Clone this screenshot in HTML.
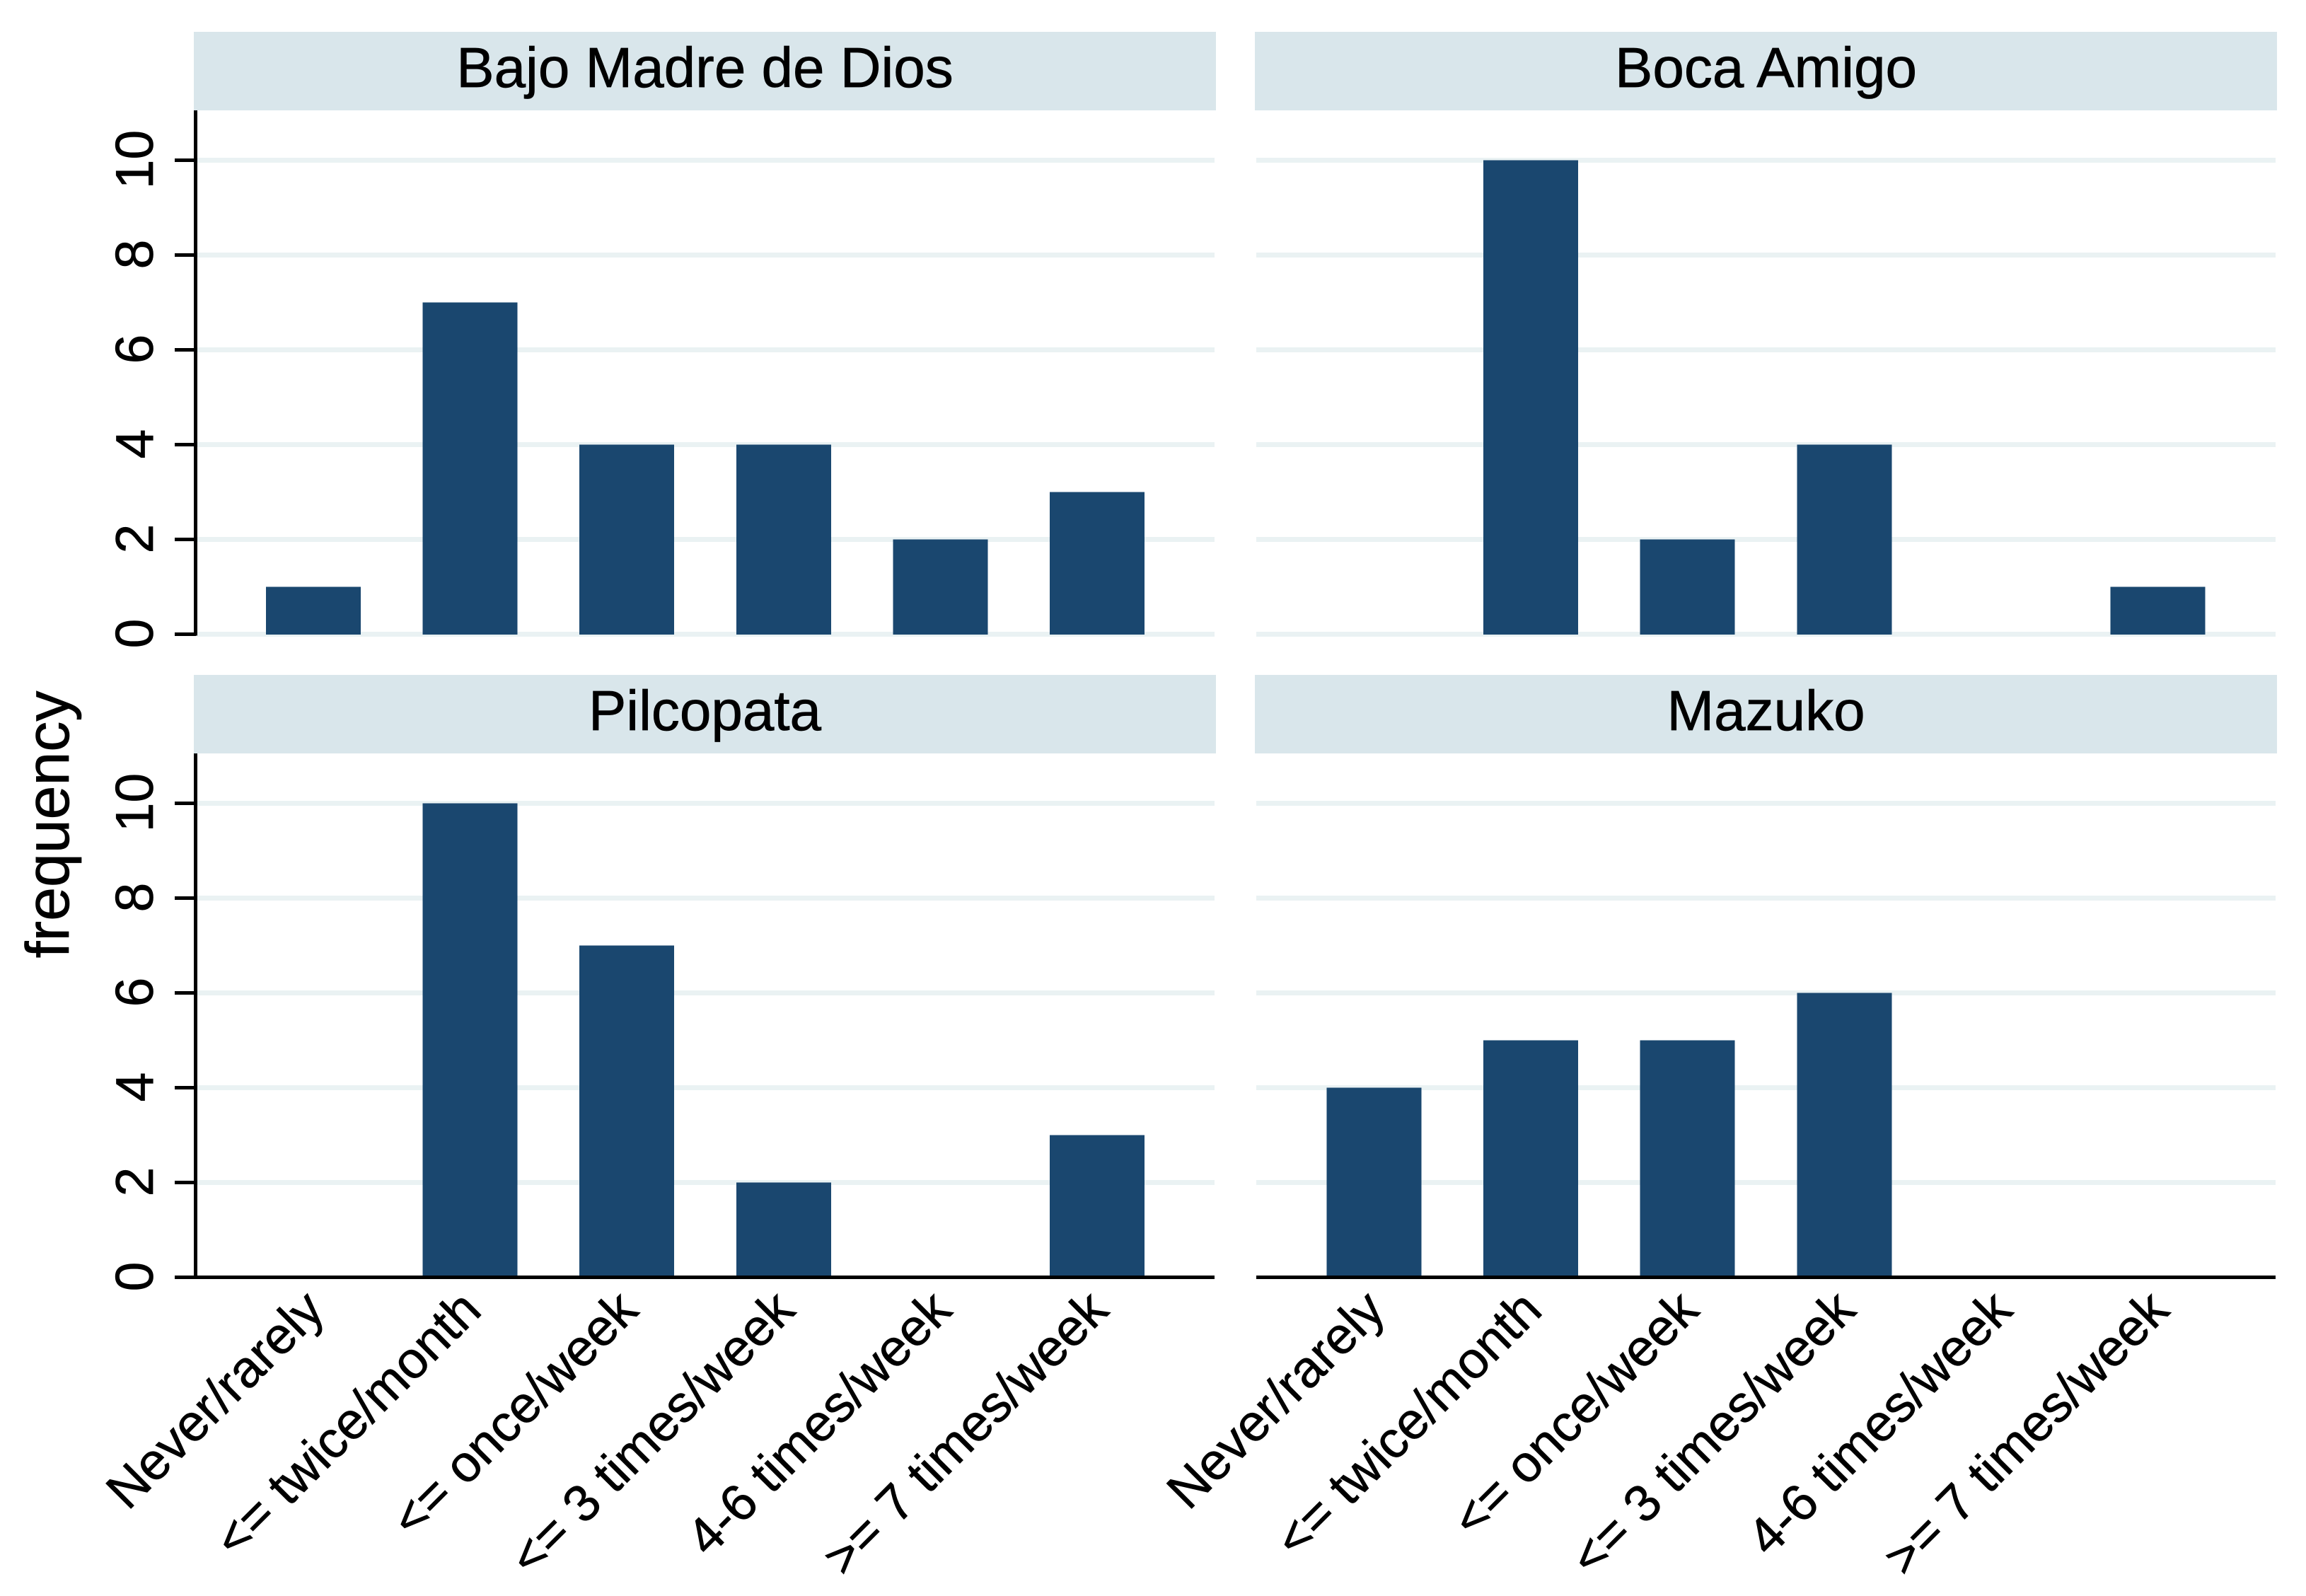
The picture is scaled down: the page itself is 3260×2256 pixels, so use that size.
<!DOCTYPE html>
<html lang="en">
<head>
<meta charset="utf-8">
<title>Frequency by site</title>
<style>
html,body{margin:0;padding:0;background:#fff;width:3260px;height:2256px;overflow:hidden}
svg{display:block}
text{font-family:"Liberation Sans",Arial,sans-serif;fill:#000;stroke:#000;stroke-width:0.7px}
rect{shape-rendering:crispEdges}
</style>
</head>
<body>
<svg id="chart" xmlns="http://www.w3.org/2000/svg" width="3260" height="2256" viewBox="0 0 3260 2256">
<rect x="0" y="0" width="3260" height="2256" fill="#ffffff"/>
<text transform="translate(97,1165.5) rotate(-90)" text-anchor="middle" font-size="86">frequency</text>
</svg>
<script>
const categories = ["Never/rarely", "<= twice/month", "<= once/week", "<= 3 times/week", "4-6 times/week", ">= 7 times/week"];
const yTickValues = [0, 2, 4, 6, 8, 10];
const panelTitles = ["Bajo Madre de Dios", "Boca Amigo", "Pilcopata", "Mazuko"];
const bajoMadreValues = [1, 7, 4, 4, 2, 3];
const bocaAmigoValues = [0, 10, 2, 4, 0, 1];
const pilcopataValues = [0, 10, 7, 2, 0, 3];
const mazukoValues = [4, 5, 5, 6, 0, 0];
const panelValues = [bajoMadreValues, bocaAmigoValues, pilcopataValues, mazukoValues];

const NS = "http://www.w3.org/2000/svg";
const svg = document.getElementById("chart");
const PIXELS_PER_UNIT = 67;
const BAND_STEP = 221.6;
const BAR_WIDTH = 134;

function panelLeft(col) { return 274 + col * 1500; }
function panelZero(row) { return 896.5 + row * 909; }
function xBar(i, col) { return 376 + col * 1499.5 + i * BAND_STEP; }
function xCenter(i, col) { return xBar(i, col) + BAR_WIDTH / 2; }
function yValue(v, row) { return panelZero(row) - v * PIXELS_PER_UNIT; }

function make(tag, attrs, parent) {
  const el = document.createElementNS(NS, tag);
  for (const k in attrs) el.setAttribute(k, attrs[k]);
  parent.appendChild(el);
  return el;
}

panelTitles.forEach(function (title, p) {
  const col = p % 2;
  const row = Math.floor(p / 2);
  const left = panelLeft(col);
  const zero = panelZero(row);
  const stripTop = 45 + row * 909;
  const slug = title.toLowerCase().replace(/ /g, "-");

  const g = make("g", {}, svg);
  
  

  const strip = make("rect", { x: left, y: stripTop, width: 1445, height: 111, fill: "#d9e6eb" }, g);
  
  

  const stripText = make("text", { x: left + 722.5, y: stripTop + 78, "text-anchor": "middle", "font-size": 80 }, g);
  stripText.textContent = title;
  
  

  yTickValues.forEach(function (t) {
    if (row === 1 && t === 0) return;
    const grid = make("rect", { x: left + 5 - (col ? 3 : 0), y: yValue(t, row) - 3.5, width: col ? 1441 : 1438, height: 7, fill: "#eaf2f3" }, g);
    
    
  });

  panelValues[p].forEach(function (v, i) {
    const top = yValue(v, row);
    const bar = make("rect", { x: xBar(i, col), y: top, width: BAR_WIDTH, height: v > 0 ? zero + 0.5 - top : 0, fill: "#1a476f" }, g);
    
    
  });

  if (col === 0) {
    const axis = make("rect", { x: 274, y: stripTop + 111, width: 5, height: zero + 2 - stripTop - 111, fill: "#000" }, g);
    
    

    yTickValues.forEach(function (t) {
      const y = yValue(t, row);
      const tick = make("rect", { x: 247, y: y - 2.5, width: 30, height: 5, fill: "#000" }, g);
      
      

      const label = make("text", { transform: "translate(216," + (y - 1) + ") rotate(-90)", "text-anchor": "middle", "font-size": 75 }, g);
      label.textContent = String(t);
      
      
    });
  }

  if (row === 1) {
    const x0 = col === 0 ? 247 : 1776;
    const baseline = make("rect", { x: x0, y: zero - 2.5, width: left + 1443 - x0, height: 5, fill: "#000" }, g);
    
    

    categories.forEach(function (c, i) {
      const ex = xCenter(i, col) + 19;
      const ey = zero + 50;
      const label = make("text", { transform: "translate(" + ex + "," + ey + ") rotate(-45)", "text-anchor": "end", "font-size": 73 }, g);
      label.textContent = c;
      
      
    });
  }
});
</script>
</body>
</html>
